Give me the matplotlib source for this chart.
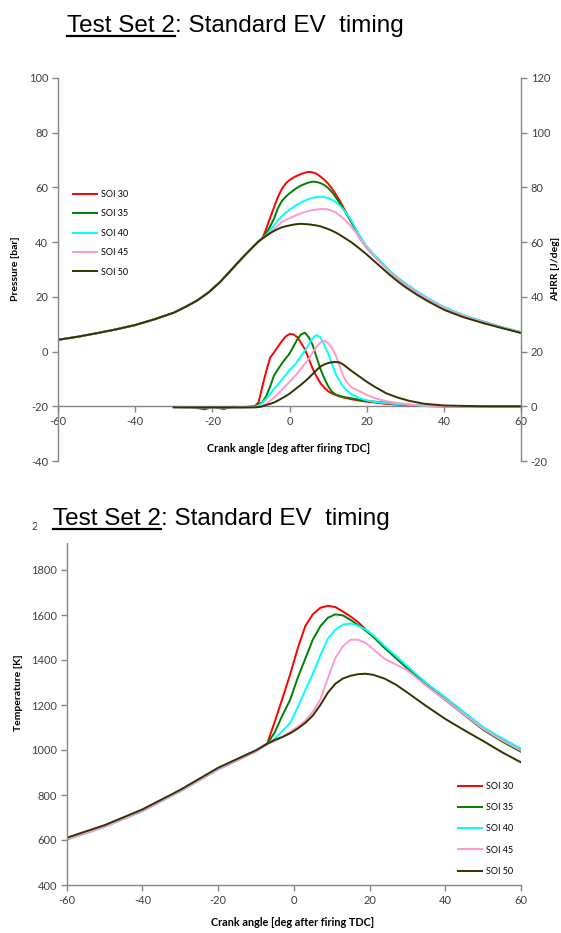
"""Test Set 2, standard EV timing: pressure / AHRR and temperature vs crank angle."""

import matplotlib

matplotlib.use("Agg")
import matplotlib.pyplot as plt
from matplotlib.lines import Line2D
from matplotlib.patches import Rectangle

plt.rcParams["font.family"] = ["Lato", "DejaVu Sans"]
plt.rcParams["axes.unicode_minus"] = False

# ---- data ----
labels = ["SOI 30", "SOI 35", "SOI 40", "SOI 45", "SOI 50"]
colors = ["#ff0000", "#008000", "#00ffff", "#ff99cc", "#333300"]

# cylinder pressure [bar]; all cases share the compression part up to -7 deg
p_angle = [-60, -55, -50, -45, -40, -35, -30, -27, -24, -21, -18, -15, -12, -10, -8, -7,
           -6, -5, -4, -3, -2, -1, 0, 1, 2, 3, 4, 5, 6, 7, 8, 9, 10, 11, 12, 13, 14, 15,
           16, 17, 18, 20, 22, 24, 26, 28, 30, 33, 36, 40, 45, 50, 55, 60]
p_compression = [4.3, 5.4, 6.7, 8.1, 9.7, 11.8, 14.2, 16.3, 18.6, 21.6, 25.4, 30.0, 34.6,
                 37.5, 40.3, 41.4]
p_soi30 = p_compression + [45.0, 49.0, 52.8, 56.5, 59.4, 61.4, 62.7, 63.6, 64.3, 64.9,
                           65.4, 65.7, 65.5, 65.0, 64.0, 62.8, 61.4, 59.6, 57.5, 55.2,
                           52.6, 50.0, 47.5, 45.0, 42.0, 38.0, 35.0, 32.1, 29.3, 26.8,
                           24.7, 21.8, 19.2, 16.1, 13.2, 11.0, 8.9, 7.0]
p_soi35 = p_compression + [43.3, 45.8, 48.6, 52.4, 55.0, 56.6, 57.8, 58.9, 59.9, 60.7,
                           61.3, 61.8, 62.1, 62.0, 61.6, 60.9, 59.8, 58.3, 56.4, 54.3,
                           52.0, 49.8, 47.4, 44.9, 42.0, 38.0, 34.9, 32.0, 29.2, 26.7,
                           24.6, 21.7, 19.1, 16.0, 13.1, 10.9, 8.8, 6.9]
p_soi40 = p_compression + [42.6, 44.3, 46.1, 47.9, 49.5, 50.7, 51.8, 52.8, 53.7, 54.5,
                           55.2, 55.8, 56.2, 56.5, 56.6, 56.5, 56.1, 55.5, 54.6, 53.4,
                           51.9, 50.1, 48.0, 45.4, 42.8, 38.5, 35.3, 32.4, 29.6, 27.1,
                           25.0, 22.1, 19.4, 16.3, 13.4, 11.1, 9.0, 7.1]
p_soi45 = p_compression + [42.4, 43.6, 44.8, 46.1, 47.3, 48.1, 48.7, 49.4, 50.0, 50.5,
                           51.0, 51.4, 51.7, 51.9, 52.1, 52.1, 52.0, 51.5, 50.8, 49.8,
                           48.6, 47.2, 45.7, 43.9, 41.9, 38.0, 34.8, 31.9, 29.1, 26.6,
                           24.5, 21.6, 19.0, 15.9, 13.1, 10.9, 8.8, 6.9]
p_soi50 = p_compression + [42.3, 43.3, 44.1, 44.8, 45.4, 45.8, 46.1, 46.4, 46.6, 46.7,
                           46.6, 46.5, 46.3, 46.1, 45.8, 45.3, 44.8, 44.2, 43.5, 42.7,
                           41.8, 40.9, 40.0, 38.9, 37.8, 35.5, 33.0, 30.5, 28.0, 25.7,
                           23.6, 20.8, 18.3, 15.3, 12.6, 10.5, 8.6, 6.8]

# apparent heat release rate [J/deg]
h_angle = [-30, -25, -22, -20, -17, -15, -12, -10, -9, -8, -7, -6, -5, -4, -3, -2, -1, 0,
           1, 2, 3, 4, 5, 6, 7, 8, 9, 10, 11, 12, 13, 14, 15, 16, 18, 20, 22, 25, 28, 31,
           35, 40, 50, 60]
h_soi30 = [-0.2, -0.4, -1.1, -0.3, -1.0, -0.2, -0.3, -0.1, 0.0, 1.5, 7.5, 13.0, 17.8, 19.7,
           21.8, 23.8, 25.5, 26.4, 26.3, 25.3, 23.2, 20.8, 17.3, 13.8, 10.9, 8.5, 6.8, 5.5,
           4.7, 4.1, 3.6, 3.2, 2.9, 2.6, 2.1, 1.7, 1.4, 0.9, 0.6, 0.4, 0.1, 0.0, -0.1, -0.2]
h_soi35 = [-0.3, -0.4, -0.5, -0.4, -0.5, -0.4, -0.4, -0.3, -0.1, 0.8, 1.5, 3.8, 7.3, 11.3,
           13.5, 15.6, 17.5, 19.2, 21.8, 24.4, 26.3, 26.9, 25.2, 22.4, 18.0, 13.7, 10.3, 7.4,
           5.3, 4.3, 3.8, 3.4, 3.2, 2.9, 2.4, 2.0, 1.7, 1.3, 0.9, 0.5, 0.1, 0.0, -0.1, -0.1]
h_soi40 = [-0.3, -0.4, -0.4, -0.5, -0.4, -0.4, -0.3, -0.3, -0.2, 0.3, 1.3, 2.8, 4.6, 6.3,
           8.0, 9.7, 11.5, 13.1, 14.6, 16.3, 18.3, 20.4, 22.6, 25.0, 26.0, 25.2, 22.5, 19.3,
           15.5, 11.7, 9.2, 7.1, 5.6, 4.5, 3.0, 2.2, 1.6, 1.2, 0.8, 0.5, 0.1, 0.0, -0.1, -0.1]
h_soi45 = [-0.3, -0.4, -0.4, -0.4, -0.4, -0.4, -0.3, -0.3, -0.3, -0.2, 0.1, 0.8, 2.0, 3.2,
           4.6, 6.0, 7.5, 8.9, 10.5, 12.0, 13.8, 15.5, 17.4, 19.6, 21.7, 23.3, 24.0, 23.1,
           21.3, 18.5, 14.8, 10.8, 8.5, 7.0, 5.6, 4.2, 3.0, 1.9, 1.2, 0.7, 0.2, 0.0, -0.1, -0.1]
h_soi50 = [-0.4, -0.4, -0.4, -0.4, -0.4, -0.4, -0.4, -0.4, -0.4, -0.3, 0.0, 0.5, 0.9, 1.4,
           2.1, 2.9, 3.7, 4.6, 5.7, 6.8, 7.9, 9.1, 10.4, 11.8, 13.2, 14.5, 15.3, 15.8, 16.1,
           16.2, 16.0, 15.2, 14.1, 13.0, 11.0, 9.0, 7.2, 4.8, 3.2, 2.0, 0.9, 0.3, 0.0, 0.0]

# bulk gas temperature [K]
t_angle = [-60, -50, -40, -30, -20, -15, -10, -7, -5, -3, -1, 1, 3, 5, 7, 9, 11, 13, 15,
           17, 19, 21, 24, 27, 30, 35, 40, 45, 50, 55, 60]
t_soi30 = [603, 660, 730, 818, 915, 955, 995, 1030, 1128, 1230, 1335, 1450, 1550, 1603,
           1632, 1641, 1635, 1615, 1593, 1568, 1535, 1505, 1455, 1410, 1365, 1290, 1226,
           1160, 1095, 1045, 1000]
t_soi35 = [603, 660, 730, 818, 915, 955, 995, 1028, 1080, 1155, 1222, 1320, 1405, 1490,
           1550, 1588, 1603, 1598, 1578, 1555, 1530, 1503, 1453, 1408, 1362, 1287, 1222,
           1156, 1090, 1038, 992]
t_soi40 = [601, 658, 728, 816, 913, 953, 994, 1027, 1050, 1085, 1119, 1190, 1265, 1338,
           1420, 1495, 1535, 1558, 1562, 1552, 1535, 1510, 1462, 1417, 1372, 1298, 1234,
           1168, 1102, 1052, 1006]
t_soi45 = [602, 659, 729, 817, 914, 954, 994, 1027, 1040, 1058, 1080, 1103, 1130, 1170,
           1225, 1320, 1410, 1462, 1490, 1490, 1475, 1448, 1405, 1380, 1354, 1285, 1222,
           1158, 1094, 1043, 998]
t_soi50 = [610, 666, 736, 823, 921, 960, 999, 1028, 1045, 1058, 1074, 1095, 1120, 1153,
           1200, 1255, 1295, 1318, 1330, 1337, 1339, 1334, 1317, 1290, 1255, 1195, 1138,
           1088, 1040, 990, 945]

W, H = 561, 933
AXIS_GREY = "#868686"
TICK_TEXT = "#404040"


def px_box(x0, y0, x1, y1):
    """Axes rectangle from pixel corners (origin top-left)."""
    return [x0 / W, 1 - y1 / H, (x1 - x0) / W, (y1 - y0) / H]


def style_axis(ax, side_spines):
    for name, spine in ax.spines.items():
        spine.set_visible(name in side_spines)
        spine.set_color(AXIS_GREY)
        spine.set_linewidth(1.0)
    ax.tick_params(direction="out", length=4, width=1.0, color=AXIS_GREY,
                   labelsize=8, labelcolor=TICK_TEXT, pad=3)


def draw_title(x_px, baseline_px):
    renderer = fig.canvas.get_renderer()
    y = 1 - baseline_px / H
    kw = dict(fontsize=17.5, family=["Liberation Sans", "DejaVu Sans"], va="baseline",
              ha="left", zorder=10, color="black")
    part1 = fig.text(x_px / W, y, "Test Set 2", **kw)
    bb = part1.get_window_extent(renderer)
    fig.text(bb.x1 / W, y, ": Standard EV  timing", **kw)
    uy = 1 - (baseline_px + 4) / H
    fig.add_artist(Line2D([x_px / W, bb.x1 / W], [uy, uy], transform=fig.transFigure,
                          color="black", linewidth=1.6, zorder=10))


fig = plt.figure(figsize=(W / 100, H / 100), dpi=100)

# ---- top: pressure + AHRR ----
ax_p = fig.add_axes(px_box(58, 78, 521, 461))
ax_h = ax_p.twinx()
for ys, col, lab in zip([p_soi30, p_soi35, p_soi40, p_soi45, p_soi50], colors, labels):
    ax_p.plot(p_angle, ys, color=col, linewidth=1.4, label=lab)
for ys, col in zip([h_soi30, h_soi35, h_soi40, h_soi45, h_soi50], colors):
    ax_h.plot(h_angle, ys, color=col, linewidth=1.4)

ax_p.set_xlim(-60, 60)
ax_p.set_ylim(-40, 100)
ax_h.set_ylim(-20, 120)
ax_p.set_xticks(range(-60, 61, 20))
ax_p.set_yticks(range(-40, 101, 20))
ax_h.set_yticks(range(-20, 121, 20))
style_axis(ax_p, {"left", "bottom"})
style_axis(ax_h, {"right"})
ax_p.spines["bottom"].set_position(("data", -20))

ax_p.legend(loc="upper left", bbox_to_anchor=(73 / W, 1 - 190 / H),
            bbox_transform=fig.transFigure, frameon=False, fontsize=6.5,
            handlelength=2.7, handletextpad=0.35, labelspacing=1.15,
            borderpad=0, borderaxespad=0)

fig.text(16 / W, 1 - 269 / H, "Pressure [bar]", rotation=90, ha="center", va="center",
         fontsize=7.5, fontweight="bold")
fig.text(556 / W, 1 - 269 / H, "AHRR [J/deg]", rotation=90, ha="center", va="center",
         fontsize=7.5, fontweight="bold")
fig.text(289 / W, 1 - 449 / H, "Crank angle [deg after firing TDC]", ha="center",
         va="center", fontsize=7.8, fontweight="bold")

# ---- bottom: temperature ----
ax_t = fig.add_axes(px_box(66.7, 525, 521, 885))
for ys, col, lab in zip([t_soi30, t_soi35, t_soi40, t_soi45, t_soi50], colors, labels):
    ax_t.plot(t_angle, ys, color=col, linewidth=1.4, label=lab)
ax_t.set_xlim(-60, 60)
ax_t.set_ylim(400, 2000)
ax_t.set_xticks(range(-60, 61, 20))
ax_t.set_yticks(range(400, 2001, 200))
style_axis(ax_t, {"left", "bottom"})

ax_t.legend(loc="upper left", bbox_to_anchor=(458 / W, 1 - 782 / H),
            bbox_transform=fig.transFigure, frameon=False, fontsize=6.5,
            handlelength=2.7, handletextpad=0.35, labelspacing=1.35,
            borderpad=0, borderaxespad=0)

fig.text(19 / W, 1 - 693 / H, "Temperature [K]", rotation=90, ha="center", va="center",
         fontsize=7.5, fontweight="bold")
fig.text(293 / W, 1 - 923 / H, "Crank angle [deg after firing TDC]", ha="center",
         va="center", fontsize=7.8, fontweight="bold")

# title box of the lower chart sits over the top of its axis
fig.add_artist(Rectangle((37 / W, 1 - 543 / H), (430 - 37) / W, (543 - 497) / H,
                         transform=fig.transFigure, facecolor="white", edgecolor="none",
                         zorder=9))

draw_title(67, 32)
draw_title(53, 525)

fig.savefig("out.png", dpi=100)
plt.close(fig)
